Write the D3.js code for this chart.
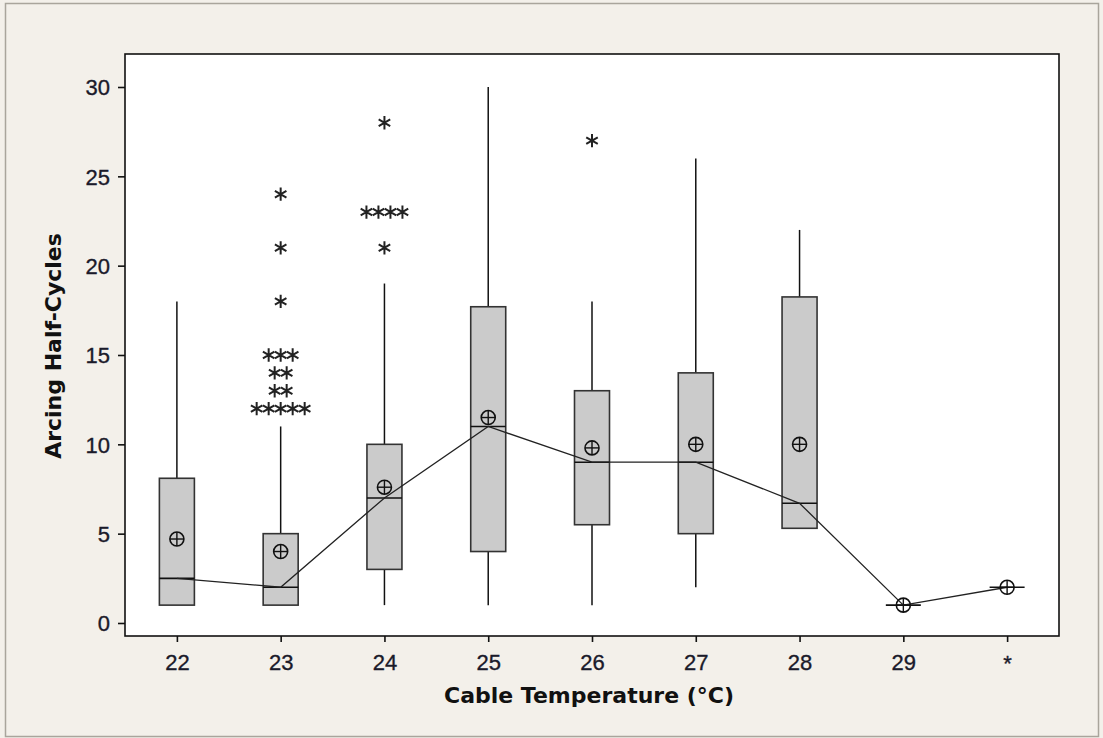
<!DOCTYPE html>
<html>
<head>
<meta charset="utf-8">
<script src="https://cdn.jsdelivr.net/npm/d3@7"></script>
<style>
  html, body { margin: 0; padding: 0; background: #f3f0ea; }
  svg { display: block; }
</style>
</head>
<body>
<svg id="chart" width="1103" height="738"></svg>
<script>
// Arcing half-cycles by cable temperature: box plots with means and connected medians
const categories   = ["22", "23", "24", "25", "26", "27", "28", "29", "*"];
const q1           = [1,   1,   3,   4,    5.5, 5,   5.3,  1, 2];
const q3           = [8.1, 5,   10,  17.7, 13,  14,  18.25, 1, 2];
const medians      = [2.5, 2,   7,   11,   9,   9,   6.7,  1, 2];
const means        = [4.7, 4,   7.6, 11.5, 9.8, 10,  10,   1, 2];
const whiskerLow   = [1,   1,   1,   1,    1,   2,   5.3,  1, 2];
const whiskerHigh  = [18,  11,  19,  30,   18,  26,  22,   1, 2];
// outliers: category, value, number of observations at that value
const outlierCats   = ["23", "23", "23", "23", "23", "23", "23", "24", "24", "24", "26"];
const outlierVals   = [12,   13,   14,   15,   18,   21,   24,   21,   23,   28,   27];
const outlierCounts = [5,    2,    2,    3,    1,    1,    1,    1,    4,    1,    1];
const yTicks = [0, 5, 10, 15, 20, 25, 30];

const svg = d3.select("#chart");
const W = 1103, H = 738;
const plot = { left: 125, top: 54, right: 1059, bottom: 636 };

// outer frame
svg.append("rect")
  .attr("x", 5.5).attr("y", 3.5).attr("width", W - 10).attr("height", H - 5)
  .attr("fill", "#f3f0ea").attr("stroke", "#a9a59c").attr("stroke-width", 1.5);

const x = d3.scalePoint().domain(categories).range([plot.left, plot.right]).padding(0.5);
const y = d3.scaleLinear().domain([-0.728, 31.847]).range([plot.bottom, plot.top]);

// plot panel
svg.append("rect")
  .attr("x", plot.left).attr("y", plot.top)
  .attr("width", plot.right - plot.left).attr("height", plot.bottom - plot.top)
  .attr("fill", "#ffffff").attr("stroke", "#111").attr("stroke-width", 1.6);

// axes
const tickFont = "'Liberation Sans', Arial, sans-serif";
const titleFont = "'DejaVu Sans', Verdana, sans-serif";
const yAxis = svg.append("g")
  .attr("transform", `translate(${plot.left},0)`)
  .call(d3.axisLeft(y).tickValues(yTicks).tickSize(7).tickPadding(8).tickFormat(d3.format("d")));
const xAxis = svg.append("g")
  .attr("transform", `translate(0,${plot.bottom})`)
  .call(d3.axisBottom(x).tickSize(6).tickPadding(6));
[yAxis, xAxis].forEach(g => {
  g.select(".domain").remove();
  g.selectAll(".tick line").attr("stroke", "#111").attr("stroke-width", 1.6);
  g.selectAll(".tick text")
    .attr("fill", "#1a1a2a").attr("stroke", "#1a1a2a").attr("stroke-width", 0.35)
    .style("font-family", tickFont).style("font-size", "22px");
});
yAxis.selectAll(".tick text").attr("dy", "0.36em");
xAxis.selectAll(".tick text").attr("y", 34).attr("dy", 0);
xAxis.selectAll(".tick text").filter(d => d === "*").attr("y", 35);

// axis titles
svg.append("text")
  .attr("x", 589).attr("y", 703)
  .attr("text-anchor", "middle")
  .style("font-family", titleFont).style("font-weight", "bold").style("font-size", "22px")
  .attr("fill", "#111")
  .text("Cable Temperature (°C)");
svg.append("text")
  .attr("transform", `translate(61,346) rotate(-90)`)
  .attr("text-anchor", "middle")
  .style("font-family", titleFont).style("font-weight", "bold").style("font-size", "22px")
  .attr("fill", "#111")
  .text("Arcing Half-Cycles");

const boxW = 35;
const g = svg.append("g");

categories.forEach((c, i) => {
  const cx = x(c);
  // whiskers
  if (whiskerHigh[i] > q3[i]) {
    g.append("line").attr("x1", cx).attr("x2", cx)
      .attr("y1", y(q3[i])).attr("y2", y(whiskerHigh[i]))
      .attr("stroke", "#111").attr("stroke-width", 1.5);
  }
  if (whiskerLow[i] < q1[i]) {
    g.append("line").attr("x1", cx).attr("x2", cx)
      .attr("y1", y(q1[i])).attr("y2", y(whiskerLow[i]))
      .attr("stroke", "#111").attr("stroke-width", 1.5);
  }
  // box
  if (q3[i] > q1[i]) {
    g.append("rect")
      .attr("x", cx - boxW / 2).attr("y", y(q3[i]))
      .attr("width", boxW).attr("height", y(q1[i]) - y(q3[i]))
      .attr("fill", "#cbcbcb").attr("stroke", "#333").attr("stroke-width", 1.6);
  }
  // median
  g.append("line")
    .attr("x1", cx - boxW / 2).attr("x2", cx + boxW / 2)
    .attr("y1", y(medians[i])).attr("y2", y(medians[i]))
    .attr("stroke", "#111").attr("stroke-width", 1.6);
});

// connect medians
g.append("path")
  .datum(categories.map((c, i) => [x(c), y(medians[i])]))
  .attr("d", d3.line())
  .attr("fill", "none").attr("stroke", "#222").attr("stroke-width", 1.3);

// mean symbols
categories.forEach((c, i) => {
  const cx = x(c), cy = y(means[i]), r = 7;
  const m = g.append("g").attr("transform", `translate(${cx},${cy})`);
  m.append("circle").attr("r", r).attr("fill", "none").attr("stroke", "#111").attr("stroke-width", 1.6);
  m.append("line").attr("x1", -r).attr("x2", r).attr("stroke", "#111").attr("stroke-width", 1.4);
  m.append("line").attr("y1", -r).attr("y2", r).attr("stroke", "#111").attr("stroke-width", 1.4);
});

// outliers as asterisks, stacked side by side when values repeat
const star = d3.symbol().type(d3.symbolAsterisk).size(125);
const spacing = 12;
outlierCats.forEach((c, k) => {
  const n = outlierCounts[k];
  for (let j = 0; j < n; j++) {
    const ox = x(c) + (j - (n - 1) / 2) * spacing;
    g.append("path")
      .attr("d", star())
      .attr("transform", `translate(${ox},${y(outlierVals[k])})`)
      .attr("fill", "none").attr("stroke", "#222").attr("stroke-width", 2);
  }
});
</script>
</body>
</html>
